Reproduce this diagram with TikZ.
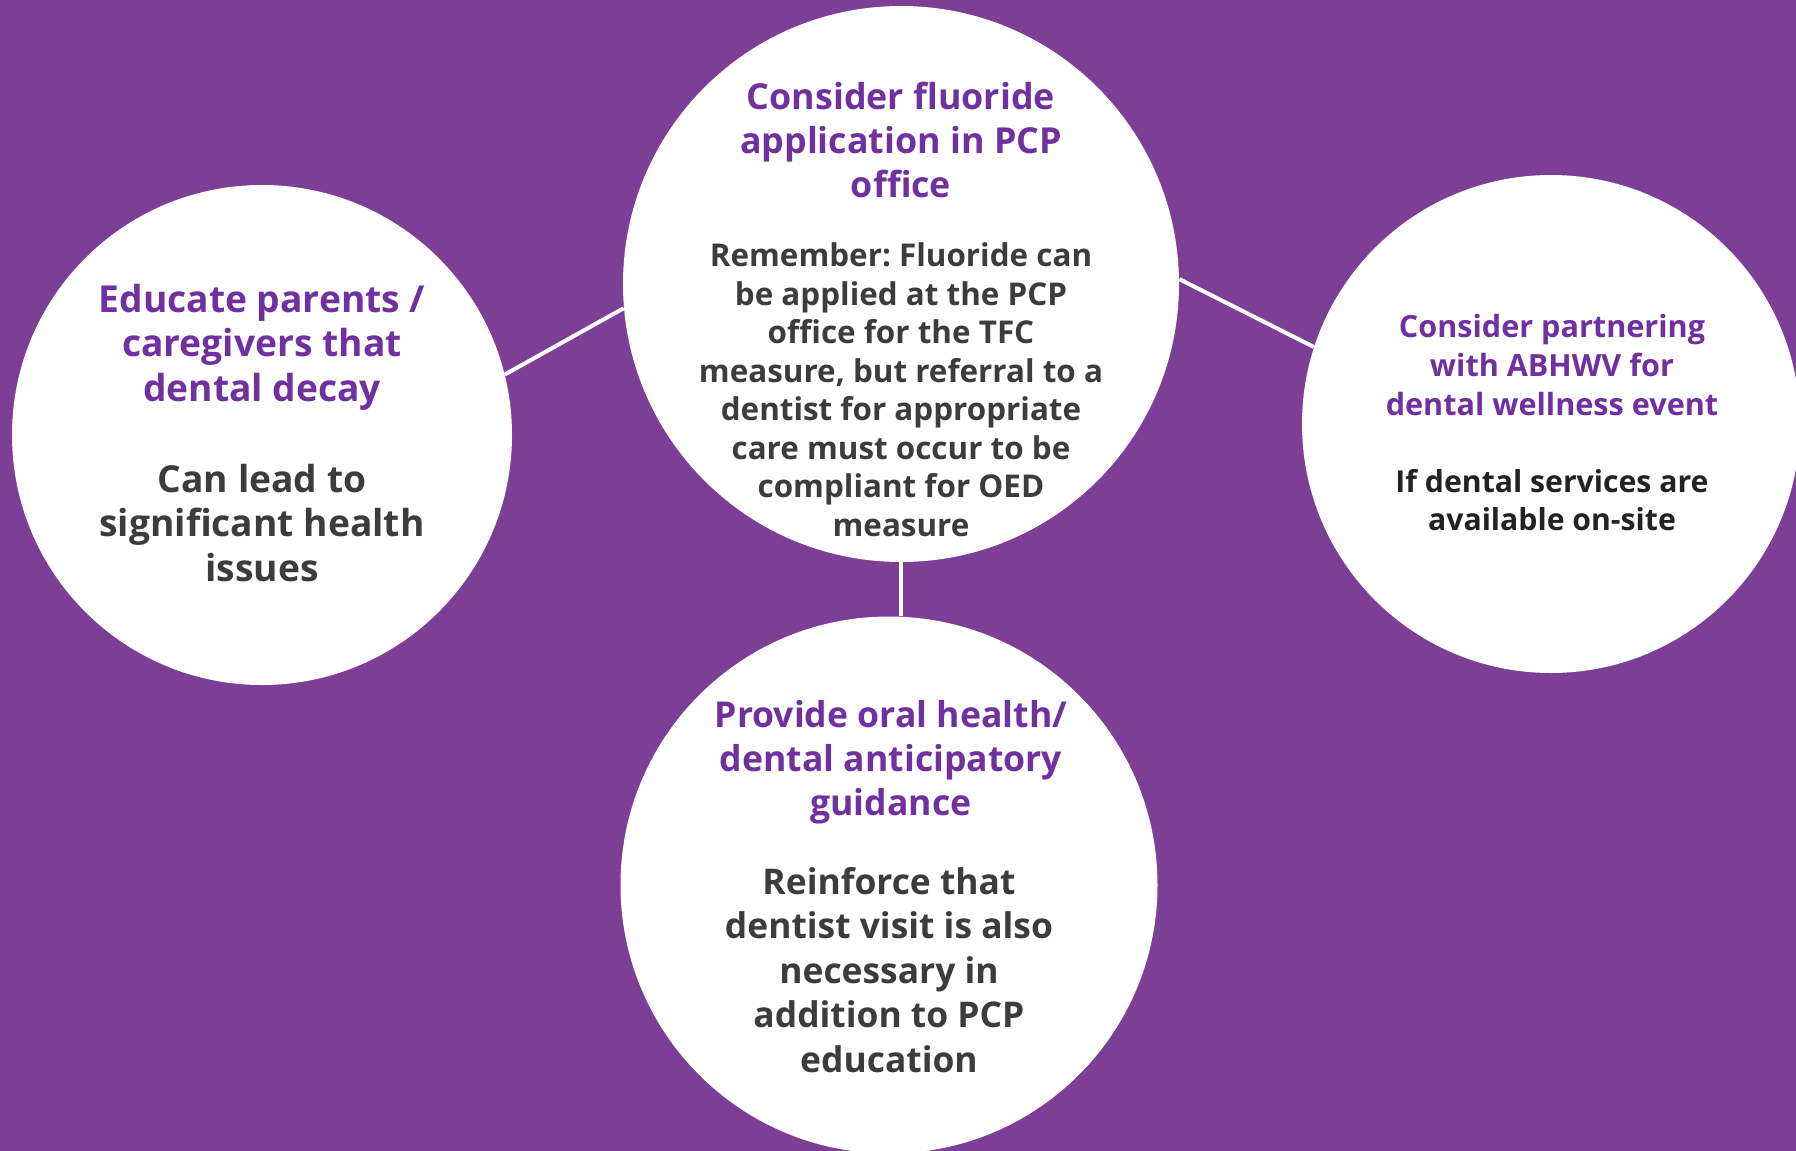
\documentclass[tikz,border=0pt]{standalone}
\usepackage{fontspec}
\setmainfont{Open Sans}
\usepackage{xcolor}
\definecolor{bgpurple}{HTML}{7D3F96}
\definecolor{headpurple}{HTML}{7030A0}
\definecolor{bodygray}{HTML}{3C3C3C}
\definecolor{bodydark}{HTML}{222222}
\frenchspacing
\tikzstyle{bubble} = [circle, fill=white, draw=none, inner sep=0pt]
\tikzstyle{link} = [draw=white, line width=2pt]
\tikzset{
	head/.style 2 args={align=center, text=headpurple, inner sep=0pt,
		font=\bfseries\fontsize{#1}{#2}\selectfont},
	body/.style 2 args={align=center, text=bodygray, inner sep=0pt,
		font=\bfseries\fontsize{#1}{#2}\selectfont}
}

\begin{document}
\begin{tikzpicture}[x=0.5pt,y=-0.5pt]
\fill[bgpurple] (0,0) rectangle (1796,1151);
\useasboundingbox (0,0) rectangle (1796,1151);
% circles
\node[bubble, minimum size=250pt] (left) at (262,435) {};
\node[bubble, minimum size=278pt] (top) at (901,284) {};
\node[bubble, minimum size=249pt] (right) at (1551,424) {};
\node[bubble, minimum size=268.5pt] (bottom) at (889,885) {};
% connectors
\draw[link] (left.14) -- (top.185);
\draw[link] (top.1.6) -- (right.162);
\draw[link] (top.south) -- (top.south |- bottom.north);
% left
\node[head={18.6}{22.2}] (left-head) at (262,347)
	{Educate parents /\\caregivers that\\dental decay};
\node[body={18.6}{22.2}] (left-body) at (262,523)
	{Can lead to\\significant health\\issues};
% top
\node[head={17.9}{22}] (top-head) at (901,139.5)
	{Consider fluoride\\application in PCP\\office};
\node[body={15.7}{19.25}] (top-body) at (901,389.5)
	{Remember: Fluoride can\\be applied at the PCP\\office for the TFC\\measure, but referral to a\\dentist for appropriate\\care must occur to be\\compliant for OED\\measure};
% right
\node[head={15.3}{19.3}] (right-head) at (1552,365)
	{Consider partnering\\with ABHWV for\\dental wellness event};
\node[body={15.1}{19}, text=bodydark] (right-body) at (1552,500)
	{If dental services are\\available on-site};
% bottom
\node[head={17.8}{22}] (bottom-head) at (891,762)
	{Provide oral health/\\dental anticipatory\\guidance};
\node[body={17.7}{22.2}] (bottom-body) at (889,970)
	{Reinforce that\\dentist visit is also\\necessary in\\addition to PCP\\education};
\end{tikzpicture}
\end{document}
